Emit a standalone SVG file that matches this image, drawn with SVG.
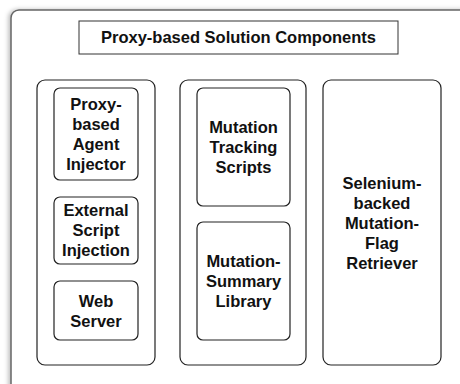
<svg xmlns="http://www.w3.org/2000/svg" width="460" height="384" viewBox="0 0 460 384">
<defs>
<filter id="sh" x="-5%" y="-5%" width="110%" height="110%">
<feDropShadow dx="-2" dy="0" stdDeviation="2" flood-color="#000" flood-opacity="0.25"/>
</filter>
</defs>
<style>
.box{fill:#fff;stroke:#222;stroke-width:1.2}
.t{font-family:"Liberation Sans",Arial,sans-serif;font-weight:bold;font-size:16.5px;fill:#111;text-anchor:middle}
</style>
<rect width="460" height="384" fill="#fff"/>
<g id="frame">
<rect x="11" y="10" width="470" height="390" rx="8" fill="#fff" stroke="#666" stroke-width="1.5" filter="url(#sh)"/>
</g>
<g id="title">
<rect x="79" y="21" width="319" height="33" fill="#fff" stroke="#333" stroke-width="1"/>
<text class="t" x="238.5" y="43">Proxy-based Solution Components</text>
</g>
<g id="col-left">
<rect class="box" x="37" y="80" width="118" height="285" rx="8"/>
</g>
<g id="col-middle">
<rect class="box" x="180" y="80" width="126" height="285" rx="8"/>
</g>
<g id="agent-injector">
<rect class="box" x="54" y="88" width="84" height="92" rx="6"/>
<text class="t" x="96" y="110">Proxy-</text>
<text class="t" x="96" y="130">based</text>
<text class="t" x="96" y="150">Agent</text>
<text class="t" x="96" y="170">Injector</text>
</g>
<g id="external-script">
<rect class="box" x="54" y="197" width="84" height="67" rx="6"/>
<text class="t" x="96" y="216">External</text>
<text class="t" x="96" y="236">Script</text>
<text class="t" x="96" y="256">Injection</text>
</g>
<g id="web-server">
<rect class="box" x="54" y="281" width="84" height="59" rx="6"/>
<text class="t" x="96" y="306.5">Web</text>
<text class="t" x="96" y="326.5">Server</text>
</g>
<g id="mutation-tracking">
<rect class="box" x="197" y="88" width="93" height="118" rx="6"/>
<text class="t" x="243.5" y="132.5">Mutation</text>
<text class="t" x="243.5" y="152.5">Tracking</text>
<text class="t" x="243.5" y="172.5">Scripts</text>
</g>
<g id="mutation-summary">
<rect class="box" x="197" y="222" width="93" height="118" rx="6"/>
<text class="t" x="243.5" y="266.5">Mutation-</text>
<text class="t" x="243.5" y="286.5">Summary</text>
<text class="t" x="243.5" y="306.5">Library</text>
</g>
<g id="selenium-retriever">
<rect class="box" x="323" y="80" width="118" height="285" rx="8"/>
<text class="t" x="382" y="188.5">Selenium-</text>
<text class="t" x="382" y="208.5">backed</text>
<text class="t" x="382" y="228.5">Mutation-</text>
<text class="t" x="382" y="248.5">Flag</text>
<text class="t" x="382" y="268.5">Retriever</text>
</g>
<g id="connectors"></g>
</svg>
